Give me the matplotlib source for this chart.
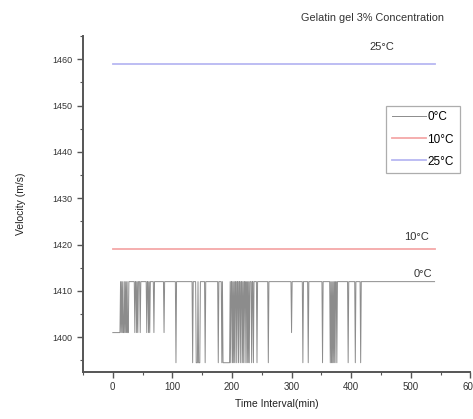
import numpy as np
import matplotlib
matplotlib.use("Agg")
import matplotlib.pyplot as plt
from matplotlib.ticker import MultipleLocator

plt.rcParams["font.family"] = ["Liberation Sans", "DejaVu Sans"]

# time axis (min), one reading per minute
t_end = 540
t_0c = np.arange(0, t_end + 1)

# 0°C readings: plateau at 1412 m/s with drops to two lower levels
v_top = 1412.0
v_mid = 1401.0
v_floor = 1394.5
start_mid_until = 12
mid_drops = [14, 16, 18, 19, 21, 23, 25, 26,
             37, 40, 42, 46, 57, 60, 62, 69, 86, 300]
floor_drops = [106, 134, 140, 141, 142, 144, 145, 146, 155, 177, 183,
               185, 186, 187, 188, 189, 190, 191, 192, 193, 194, 195, 196,
               198, 201, 203, 205, 208, 211, 214, 217, 219, 222, 225, 227,
               229, 233, 236, 242, 261, 319, 328, 352, 365, 367, 369, 371,
               373, 376, 395, 407, 416]

# 10°C and 25°C stay constant over the whole run
t_flat = [0, t_end]
v_10c = [1419, 1419]
v_25c = [1459, 1459]

v_0c = np.full(t_0c.shape, v_top)
v_0c[: start_mid_until + 1] = v_mid
v_0c[mid_drops] = v_mid
v_0c[floor_drops] = v_floor

fig = plt.figure(figsize=(4.73, 4.19), dpi=100)
ax = fig.add_axes([0.1755, 0.1122, 0.8188, 0.8018])

ax.plot(t_0c, v_0c, color="#8c8c8c", lw=0.7, label="0°C")
ax.plot(t_flat, v_10c, color="#f5a8a8", lw=1.3, label="10°C")
ax.plot(t_flat, v_25c, color="#b8b8f2", lw=1.3, label="25°C")

ax.text(451, 1462.6, "25°C", fontsize=8, ha="center", va="center", color="#333333")
ax.text(510, 1421.6, "10°C", fontsize=8, ha="center", va="center", color="#333333")
ax.text(521, 1413.6, "0°C", fontsize=8, ha="center", va="center", color="#333333")

ax.set_xlim(-50, 600)
ax.set_ylim(1392.5, 1465)
ax.xaxis.set_major_locator(MultipleLocator(100))
ax.xaxis.set_minor_locator(MultipleLocator(50))
ax.yaxis.set_major_locator(MultipleLocator(10))
ax.yaxis.set_minor_locator(MultipleLocator(5))

for side in ("top", "right"):
    ax.spines[side].set_visible(False)
for side in ("left", "bottom"):
    ax.spines[side].set_color("#555555")
    ax.spines[side].set_linewidth(1.4)

ax.tick_params(which="major", direction="out", length=4, width=1.0,
               color="#555555", labelsize=6.5, labelcolor="#333333")
ax.tick_params(which="minor", direction="out", length=2.5, width=0.8,
               color="#555555")
ax.tick_params(axis="x", labelsize=7)

ax.set_xlabel("Time Interval(min)", fontsize=7.5, color="#222222", labelpad=5)
ax.set_ylabel("Velocity (m/s)", fontsize=7.5, color="#222222", labelpad=19)

fig.text(0.788, 0.958, "Gelatin gel 3% Concentration", fontsize=7.8,
         ha="center", va="center", color="#333333")

leg = ax.legend(loc="upper left", bbox_to_anchor=(0.782, 0.793), fontsize=8.5,
                frameon=True, fancybox=False, borderpad=0.5, labelspacing=0.85,
                handlelength=2.9, handletextpad=0.1, borderaxespad=0.0)
leg.get_frame().set_edgecolor("#999999")
leg.get_frame().set_linewidth(0.9)

fig.savefig("out.png", dpi=100)
